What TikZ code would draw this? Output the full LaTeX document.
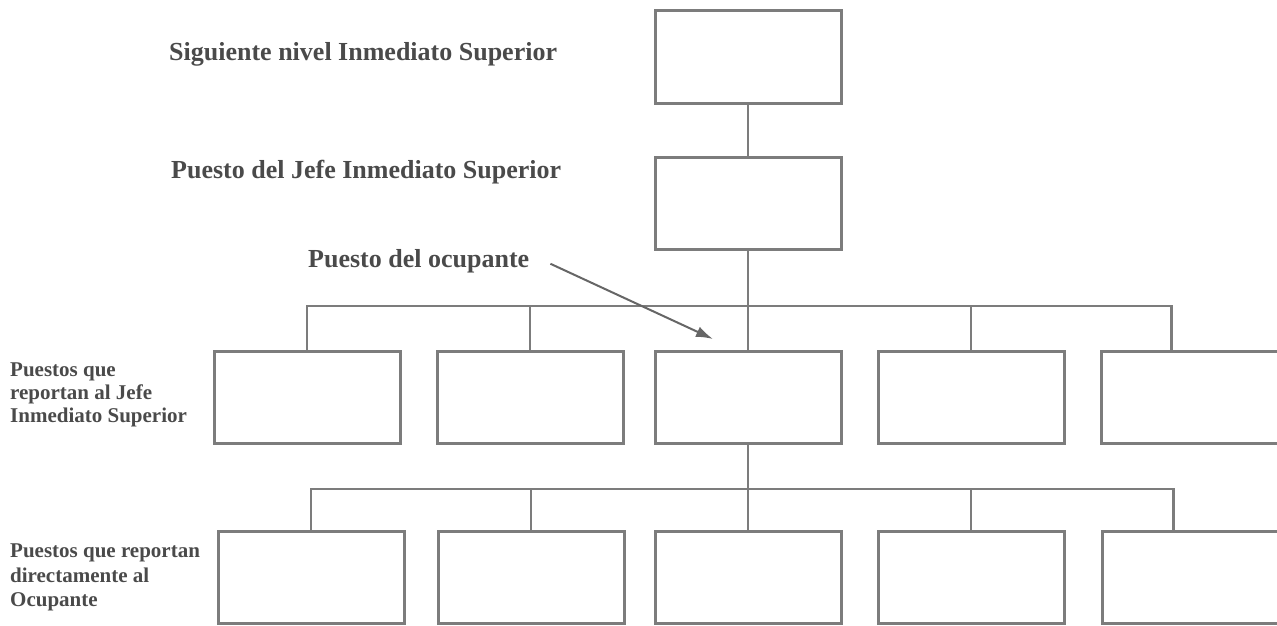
\documentclass[tikz,border=0pt]{standalone}
\usepackage{fontspec}
\setmainfont{Liberation Serif}
\usetikzlibrary{arrows.meta}
\definecolor{linea}{HTML}{7C7C7C}
\definecolor{texto}{HTML}{4A4A4A}

\begin{document}
\begin{tikzpicture}[x=1pt,y=-1pt,>=Latex]
\tikzset{
  puesto/.style={draw=linea,line width=3pt,minimum width=186pt,
    minimum height=92pt,inner sep=0pt},
  enlace/.style={draw=linea,line width=2.5pt},
  titulo/.style={texto,font=\fontsize{26}{30}\selectfont\bfseries,
    anchor=base west,inner sep=0pt},
  nota/.style={texto,font=\fontsize{21}{23}\selectfont\bfseries,
    align=left,anchor=north west,inner sep=0pt}
}
\useasboundingbox (0,0) rectangle (1277,626);

% niveles superiores
\node[puesto] (sup) at (748,57) {};
\node[puesto] (jefe) at (748,203) {};
\node[titulo] (tsup) at (169,61) {Siguiente nivel Inmediato Superior};
\node[titulo] (tjefe) at (171,178) {Puesto del Jefe Inmediato Superior};

% puestos que reportan al jefe / al ocupante
\foreach \i/\x in {1/307,2/530,3/748,4/971,5/1194}
  \node[puesto] (a\i) at (\x,397) {};
\foreach \i/\x in {1/311,2/531,3/748,4/971,5/1195}
  \node[puesto] (b\i) at (\x,577) {};

\node[nota] (na) at (10,363)
  {Puestos que\\reportan al Jefe\\Inmediato Superior};
\node[nota,font=\fontsize{21}{24.5}\selectfont\bfseries] (nb) at (10,544)
  {Puestos que reportan\\directamente al\\Ocupante};

% lineas de mando
\coordinate (busA) at (748,306);
\coordinate (busB) at (748,489);
\draw[enlace] (sup) -- (jefe);
\draw[enlace] (jefe) -- (a3);
\draw[enlace] (a1.north) |- (busA) -| ([xshift=72pt]a5.north west);
\foreach \i in {2,4}
  \draw[enlace] (a\i.north) -- (a\i.north |- busA);
\draw[enlace] (a3) -- (b3);
\draw[enlace] (b1.north) |- (busB) -| ([xshift=73pt]b5.north west);
\foreach \i in {2,4}
  \draw[enlace] (b\i.north) -- (b\i.north |- busB);

% ocupante
\node[titulo] (ocup) at (308,267) {Puesto del ocupante};
\coordinate (flecha) at (713,339);
\draw[enlace,draw=black!60,line width=2pt,-{Latex[length=17pt,width=11pt]}]
  ([shift={(21pt,-3pt)}]ocup.east) -- (flecha);
\end{tikzpicture}
\end{document}
